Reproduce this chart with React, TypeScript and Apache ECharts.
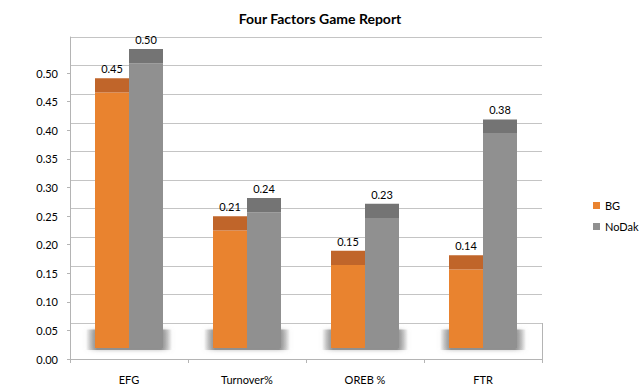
import React, { useEffect, useRef } from 'react';
import * as echarts from 'echarts';

const categories = ['EFG', 'Turnover%', 'OREB %', 'FTR'];
const bgValues = [0.453, 0.212, 0.152, 0.144];
const noDakValues = [0.504, 0.244, 0.234, 0.381];
const seriesNames = ['BG', 'NoDak'];

// 3-D look: depth of the bar tops and the floor shadow, in axis units
const CAP_DEPTH = 0.025;
const FLOOR_SHADOW = 0.036;

const FONT = 'Lato, "Open Sans", sans-serif';
const GRID_LEFT = 70;
const GRID_RIGHT = 98;

export default function App() {
  const ref = useRef<HTMLDivElement>(null);

  useEffect(() => {
    document.body.style.margin = '0';
    if (!ref.current) return;
    const chart = echarts.init(ref.current, undefined, { renderer: 'svg' });

    const caps = categories.map(() => CAP_DEPTH);
    const shadows = categories.map(() => FLOOR_SHADOW);
    const axisGray = '#b4b4b4';

    const hiddenX = (gridIndex: number) => ({
      type: 'category' as const,
      gridIndex,
      data: categories,
      show: false,
    });

    const shadowFill = new echarts.graphic.LinearGradient(0, 0, 1, 0, [
      { offset: 0, color: 'rgba(140,140,140,0)' },
      { offset: 0.13, color: 'rgba(140,140,140,0.95)' },
      { offset: 0.87, color: 'rgba(140,140,140,0.95)' },
      { offset: 1, color: 'rgba(140,140,140,0)' },
    ]);

    chart.setOption({
      animation: false,
      backgroundColor: '#ffffff',
      title: {
        text: 'Four Factors Game Report',
        left: 'center',
        top: 6,
        textStyle: { fontFamily: FONT, fontSize: 14, fontWeight: 'bold', color: '#000' },
      },
      legend: {
        data: seriesNames,
        orient: 'vertical',
        left: 588,
        top: 195,
        itemWidth: 7,
        itemHeight: 7,
        itemGap: 10,
        icon: 'rect',
        textStyle: { fontFamily: FONT, fontSize: 11, color: '#000' },
      },
      grid: [
        { left: GRID_LEFT, right: GRID_RIGHT, top: 73, bottom: 31 }, // front axes
        { left: GRID_LEFT, right: GRID_RIGHT, top: 37, bottom: 67 }, // back wall
        { left: GRID_LEFT, right: GRID_RIGHT, top: 37, bottom: 40 }, // floor shadow
        { left: GRID_LEFT, right: GRID_RIGHT, top: 37, bottom: 42 }, // bars
      ],
      xAxis: [
        {
          type: 'category',
          gridIndex: 0,
          data: categories,
          axisLine: { show: true, lineStyle: { color: axisGray } },
          axisTick: { show: true, length: 4, lineStyle: { color: axisGray } },
          axisLabel: { margin: 15, fontFamily: FONT, fontSize: 11, color: '#000' },
        },
        hiddenX(1),
        hiddenX(2),
        hiddenX(3),
      ],
      yAxis: [
        {
          type: 'value',
          gridIndex: 0,
          min: 0,
          max: 0.5,
          interval: 0.05,
          axisLine: { show: true, lineStyle: { color: axisGray } },
          axisTick: { show: true, length: 3, lineStyle: { color: axisGray } },
          axisLabel: {
            margin: 12,
            fontFamily: FONT,
            fontSize: 11,
            color: '#000',
            formatter: (v: number) => v.toFixed(2),
          },
          splitLine: { show: false },
        },
        {
          type: 'value',
          gridIndex: 1,
          min: 0.05,
          max: 0.55,
          interval: 0.05,
          axisLine: { show: true, lineStyle: { color: axisGray } },
          axisTick: { show: false },
          axisLabel: { show: false },
          splitLine: { show: true, lineStyle: { color: '#c4c4c4', width: 1 } },
        },
        { type: 'value', gridIndex: 2, min: 0, max: 0.55, show: false, splitLine: { show: false } },
        { type: 'value', gridIndex: 3, min: 0.007, max: 0.55, show: false, splitLine: { show: false } },
      ],
      graphic: [
        {
          type: 'line',
          shape: { x1: 542.5, y1: 323, x2: 542.5, y2: 363 },
          style: { stroke: axisGray, lineWidth: 1 },
          silent: true,
        },
      ],
      series: [
        {
          name: 'floor',
          type: 'bar',
          xAxisIndex: 2,
          yAxisIndex: 2,
          data: shadows,
          barWidth: 86,
          silent: true,
          z: 1,
          itemStyle: {
            color: shadowFill,
            shadowBlur: 4,
            shadowColor: 'rgba(140,140,140,0.6)',
          },
        },
        {
          name: 'BG',
          type: 'bar',
          xAxisIndex: 3,
          yAxisIndex: 3,
          stack: 'bg',
          data: bgValues,
          barWidth: 34,
          barGap: '0%',
          z: 3,
          itemStyle: { color: '#E9832F' },
        },
        {
          name: 'BG top',
          type: 'bar',
          xAxisIndex: 3,
          yAxisIndex: 3,
          stack: 'bg',
          data: caps,
          barWidth: 34,
          barGap: '0%',
          z: 3,
          itemStyle: { color: '#C0652A' },
          label: {
            show: true,
            position: 'top',
            distance: 4,
            fontFamily: FONT,
            fontSize: 11,
            color: '#000',
            formatter: (p: any) => bgValues[p.dataIndex].toFixed(2),
          },
        },
        {
          name: 'NoDak',
          type: 'bar',
          xAxisIndex: 3,
          yAxisIndex: 3,
          stack: 'nd',
          data: noDakValues,
          barWidth: 34,
          barGap: '0%',
          z: 3,
          itemStyle: { color: '#909090' },
        },
        {
          name: 'NoDak top',
          type: 'bar',
          xAxisIndex: 3,
          yAxisIndex: 3,
          stack: 'nd',
          data: caps,
          barWidth: 34,
          barGap: '0%',
          z: 3,
          itemStyle: { color: '#747474' },
          label: {
            show: true,
            position: 'top',
            distance: 4,
            fontFamily: FONT,
            fontSize: 11,
            color: '#000',
            formatter: (p: any) => noDakValues[p.dataIndex].toFixed(2),
          },
        },
      ],
    });

    return () => chart.dispose();
  }, []);

  return <div ref={ref} style={{ width: 640, height: 390 }} />;
}
